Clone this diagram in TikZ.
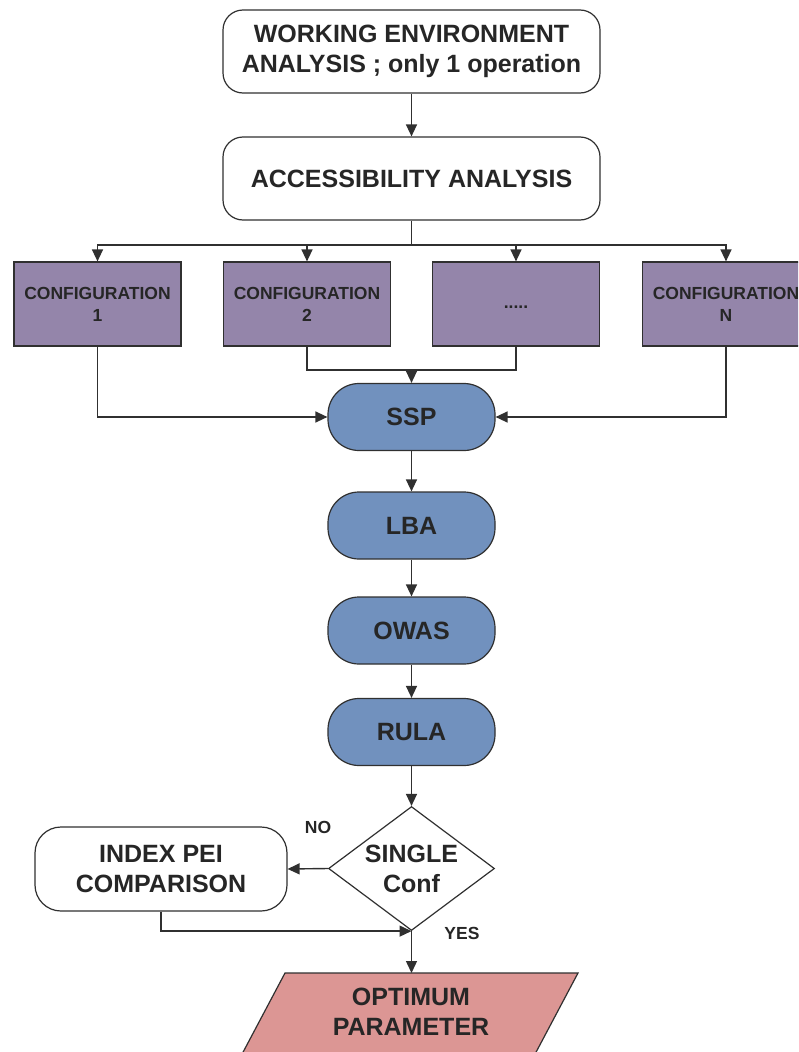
\documentclass[tikz,border=0pt]{standalone}
\usepackage{fontspec}
\setmainfont{Liberation Sans}
\usetikzlibrary{arrows.meta,shapes.geometric,calc}
\definecolor{ln}{HTML}{303030}
\definecolor{txt}{HTML}{262626}
\definecolor{cfg}{HTML}{9485AA}
\definecolor{blu}{HTML}{7191BE}
\definecolor{pnk}{HTML}{DC9694}
\tikzset{
  big/.style={font=\bfseries\fontsize{25}{30}\selectfont, text=txt},
  small/.style={font=\bfseries\fontsize{17.5}{22}\selectfont, text=txt},
  whitebox/.style={draw=ln, line width=1.2pt, fill=white, rounded corners=20pt,
    minimum width=377pt, minimum height=83pt, inner sep=0pt, align=center, big},
  cfgbox/.style={draw=ln, line width=1.2pt, fill=cfg, minimum width=167pt,
    minimum height=84pt, inner sep=0pt, align=center, small},
  term/.style={draw=ln, line width=1.2pt, fill=blu, rounded corners=31pt,
    minimum width=167pt, minimum height=67pt, inner sep=0pt, big},
  decis/.style={diamond, draw=ln, line width=1.2pt, fill=white, minimum width=166pt,
    minimum height=124pt, inner sep=0pt},
  conn/.style={draw=ln, line width=1.4pt},
  arr/.style={conn, -{Triangle[length=12pt,width=11pt]}},
}
\begin{document}
\begin{tikzpicture}[x=1pt,y=-1pt]
\useasboundingbox (0,0) rectangle (798,1052);
\clip (0,0) rectangle (798,1052);
\fill[white] (0,0) rectangle (798,1052);

\node[whitebox] (top) at (411.5,51.5) {WORKING ENVIRONMENT\\ANALYSIS ; only 1 operation};
\node[whitebox] (acc) at (411.5,178.5) {ACCESSIBILITY ANALYSIS};

\node[cfgbox] (c1) at (97.5,304) {CONFIGURATION\\1};
\node[cfgbox] (c2) at (307,304) {CONFIGURATION\\2};
\node[cfgbox] (c3) at (516,304) {\raisebox{-8pt}{.....}};
\node[cfgbox] (cN) at (726,304) {CONFIGURATION\\N};

\node[term] (ssp) at (411.5,417) {SSP};
\node[term] (lba) at (411.5,525.5) {LBA};
\node[term] (owas) at (411.5,630.5) {OWAS};
\node[term] (rula) at (411.5,732) {RULA};

\node[decis, label={[big, align=center]center:SINGLE\\Conf}] (dia) at (411.5,868.5) {};

\node[whitebox, rounded corners=26pt, minimum width=252pt, minimum height=84pt] (pei) at (161,869) {INDEX PEI\\COMPARISON};

\fill[pnk, draw=ln, line width=1.2pt] (285,973) -- (578,973) -- (525,1073) -- (232,1073) -- cycle;
\node[big, align=center] (opt) at (411,1012) {OPTIMUM\\PARAMETER};
\coordinate (optN) at (411.5,973);

\node[small] (no) at (318,827) {NO};
\node[small] (yes) at (462,933) {YES};

\coordinate (bus) at (411.5,245);
\coordinate (mrg) at (411.5,370);

\draw[arr] (top.south) -- (acc.north);
\draw[conn] (acc.south) -- (bus);
\draw[arr] (bus) -| (c1.north);
\draw[arr] (bus) -| (c2.north);
\draw[arr] (bus) -| (c3.north);
\draw[arr] (bus) -| (cN.north);

\draw[arr] (c1.south) |- (ssp.west);
\draw[arr] (cN.south) |- (ssp.east);
\draw[conn] (c2.south) |- (mrg);
\draw[conn] (c3.south) |- (mrg);
\draw[arr] (mrg) -- (ssp.north);

\draw[arr] (ssp.south) -- (lba.north);
\draw[arr] (lba.south) -- (owas.north);
\draw[arr] (owas.south) -- (rula.north);
\draw[arr] (rula.south) -- (dia.north);

\draw[arr] (dia.west) -- (pei.east);
\draw[arr] (pei.south) |- (dia.south);
\draw[arr] (dia.south) -- (optN);
\end{tikzpicture}
\end{document}
